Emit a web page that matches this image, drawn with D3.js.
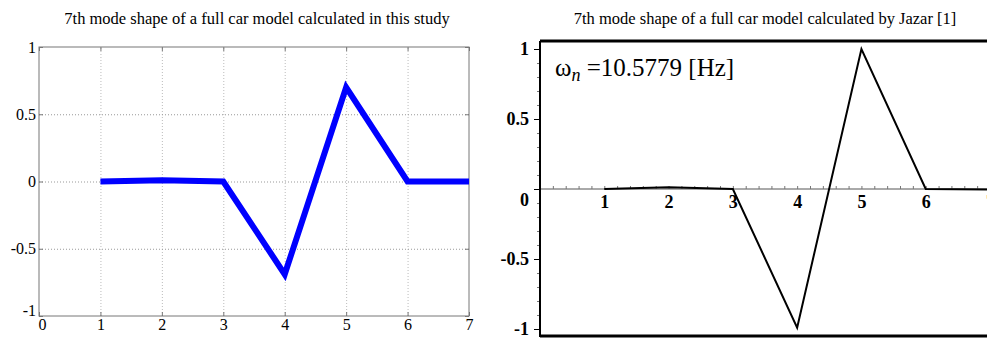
<!DOCTYPE html>
<html>
<head>
<meta charset="utf-8">
<script src="https://cdn.jsdelivr.net/npm/d3@7/dist/d3.min.js"></script>
<style>
  body { margin: 0; background: #fff; }
  .domain { display: none; }
</style>
</head>
<body>
<div id="chart"></div>
<script>
// Mode shape values
var modeIndex = [1, 2, 3, 4, 5, 6, 7];
var studyShape = [0, 0.01, 0, -0.69, 0.70, 0, 0];
var jazarShape = [0, 0.012, 0, -0.99, 1.0, 0, -0.003];

// tick labels
var leftXTicks = [0, 1, 2, 3, 4, 5, 6, 7];
var leftYTicks = [-1, -0.5, 0, 0.5, 1];
var rightXTicks = [1, 2, 3, 4, 5, 6, 7];
var rightYTicks = [-1, -0.5, 0, 0.5, 1];

var leftTitle = "7th mode shape of a full car model calculated in this study";
var rightTitle = "7th mode shape of a full car model calculated by Jazar [1]";

var serif = "'Liberation Serif', 'DejaVu Serif', serif";

var width = 987;
var height = 338;

var svg = d3
    .select("#chart")
    .append("svg")
    .attr("width", width)
    .attr("height", height);

// ---------- Left panel (matlab style) ----------

var lx = d3.scaleLinear().domain([0, 7]).range([39, 469]);
var ly = d3.scaleLinear().domain([-1, 1]).range([316, 47]);

var left = svg.append("g");

// dotted grid
left.append("g")
    .attr("transform", "translate(0," + ly(-1) + ")")
    .call(d3.axisBottom(lx).tickValues([1, 2, 3, 4, 5, 6]).tickSize(-(ly(-1) - ly(1))).tickFormat(""))
    .selectAll("line")
    .attr("stroke", "#bbb")
    .attr("stroke-dasharray", "1,2");
left.append("g")
    .attr("transform", "translate(" + lx(0) + ",0)")
    .call(d3.axisLeft(ly).tickValues([-0.5, 0, 0.5]).tickSize(-(lx(7) - lx(0))).tickFormat(""))
    .selectAll("line")
    .attr("stroke", "#999")
    .attr("stroke-dasharray", "1,2");

// box
left.append("rect")
    .attr("x", lx(0))
    .attr("y", ly(1))
    .attr("width", lx(7) - lx(0))
    .attr("height", ly(-1) - ly(1))
    .attr("fill", "none")
    .attr("stroke", "#777")
    .attr("stroke-width", 1);

// inward ticks + labels
var lxAxis = left.append("g")
    .attr("transform", "translate(0," + ly(-1) + ")")
    .call(d3.axisBottom(lx).tickValues(leftXTicks).tickSize(-4).tickPadding(3).tickFormat(d3.format("d")));
lxAxis.selectAll("line").attr("stroke", "#777");
lxAxis.selectAll("text").style("font-size", "16px");
lxAxis.selectAll("text").filter(function(d) { return d === 0; }).attr("dx", 3);

left.append("g")
    .attr("transform", "translate(0," + ly(1) + ")")
    .call(d3.axisTop(lx).tickValues(leftXTicks).tickSize(-4).tickFormat(""))
    .selectAll("line").attr("stroke", "#777");

var lyAxis = left.append("g")
    .attr("transform", "translate(" + lx(0) + ",0)")
    .call(d3.axisLeft(ly).tickValues(leftYTicks).tickSize(-4).tickPadding(3).tickFormat(function(d) { return d; }));
lyAxis.selectAll("line").attr("stroke", "#777");
lyAxis.selectAll("text").style("font-size", "16px");
lyAxis.selectAll("text").filter(function(d) { return d === -1; }).attr("dy", "-0.05em");

left.append("g")
    .attr("transform", "translate(" + lx(7) + ",0)")
    .call(d3.axisRight(ly).tickValues(leftYTicks).tickSize(-4).tickFormat(""))
    .selectAll("line").attr("stroke", "#777");

// blue mode shape
var lLine = d3.line()
    .x(function(d, i) { return lx(modeIndex[i]); })
    .y(function(d) { return ly(d); });

left.append("path")
    .datum(studyShape)
    .attr("d", lLine)
    .attr("fill", "none")
    .attr("stroke", "#0000ff")
    .attr("stroke-width", 6)
    .attr("stroke-linejoin", "miter");

left.append("text")
    .attr("x", 257)
    .attr("y", 24)
    .attr("text-anchor", "middle")
    .style("font-size", "16.5px")
    .text(leftTitle);

// ---------- Right panel (maple style) ----------

var rx = d3.scaleLinear().domain([0, 7]).range([540, 990]);
var ry = d3.scaleLinear().domain([-1, 1]).range([329, 49]);

var right = svg.append("g");

// frame top and bottom
right.append("line")
    .attr("x1", rx(0)).attr("x2", width)
    .attr("y1", 41).attr("y2", 41)
    .attr("stroke", "#000").attr("stroke-width", 3);
right.append("line")
    .attr("x1", rx(0)).attr("x2", width)
    .attr("y1", 336).attr("y2", 336)
    .attr("stroke", "#000").attr("stroke-width", 3);

// x axis through zero with minor ticks
right.append("line")
    .attr("x1", rx(0)).attr("x2", width)
    .attr("y1", ry(0)).attr("y2", ry(0))
    .attr("stroke", "#555").attr("stroke-width", 1);

right.append("g")
    .attr("transform", "translate(0," + ry(0) + ")")
    .call(d3.axisTop(rx).tickValues(d3.range(0, 36).map(function(i) { return i / 5; })).tickSize(3).tickFormat(""))
    .selectAll("line").attr("stroke", "#777");

var rxAxis = right.append("g")
    .attr("transform", "translate(0," + ry(0) + ")")
    .call(d3.axisBottom(rx).tickValues(rightXTicks).tickSize(0).tickPadding(6).tickFormat(d3.format("d")));
rxAxis.selectAll("text")
    .style("font-size", "18px")
    .style("font-weight", "bold");

// y axis with minor ticks
right.append("g")
    .attr("transform", "translate(" + rx(0) + ",0)")
    .call(d3.axisLeft(ry).tickValues(d3.range(-10, 11).map(function(i) { return i / 10; })).tickSize(3).tickFormat(""))
    .selectAll("line").attr("stroke", "#777");

var ryAxis = right.append("g")
    .attr("transform", "translate(" + rx(0) + ",0)")
    .call(d3.axisLeft(ry).tickValues(rightYTicks).tickSize(6).tickPadding(5).tickFormat(function(d) { return d; }));
ryAxis.selectAll("line").attr("stroke", "#000");
ryAxis.selectAll("text")
    .style("font-size", "18px")
    .style("font-weight", "bold");
ryAxis.selectAll("text").filter(function(d) { return d === 0; }).attr("dy", "0.9em");

right.append("line")
    .attr("x1", rx(0)).attr("x2", rx(0))
    .attr("y1", 41).attr("y2", 337)
    .attr("stroke", "#000").attr("stroke-width", 2);

// black mode shape
var rLine = d3.line()
    .x(function(d, i) { return rx(modeIndex[i]); })
    .y(function(d) { return ry(d); });

right.append("path")
    .datum(jazarShape)
    .attr("d", rLine)
    .attr("fill", "none")
    .attr("stroke", "#000")
    .attr("stroke-width", 2);

// natural frequency note
var note = right.append("text")
    .attr("x", 555)
    .attr("y", 76)
    .style("font-size", "25px");
note.append("tspan").text("\u03c9");
note.append("tspan").attr("dy", 5).style("font-size", "18px").style("font-style", "italic").text("n");
note.append("tspan").attr("dy", -5).text(" =10.5779 [Hz]");

right.append("text")
    .attr("x", 765)
    .attr("y", 24)
    .attr("text-anchor", "middle")
    .style("font-size", "16.5px")
    .text(rightTitle);

// everything in a times-like face, black
svg.selectAll("g").attr("font-family", null);
svg.selectAll("text")
    .style("font-family", serif)
    .attr("fill", "#000");
</script>
</body>
</html>
